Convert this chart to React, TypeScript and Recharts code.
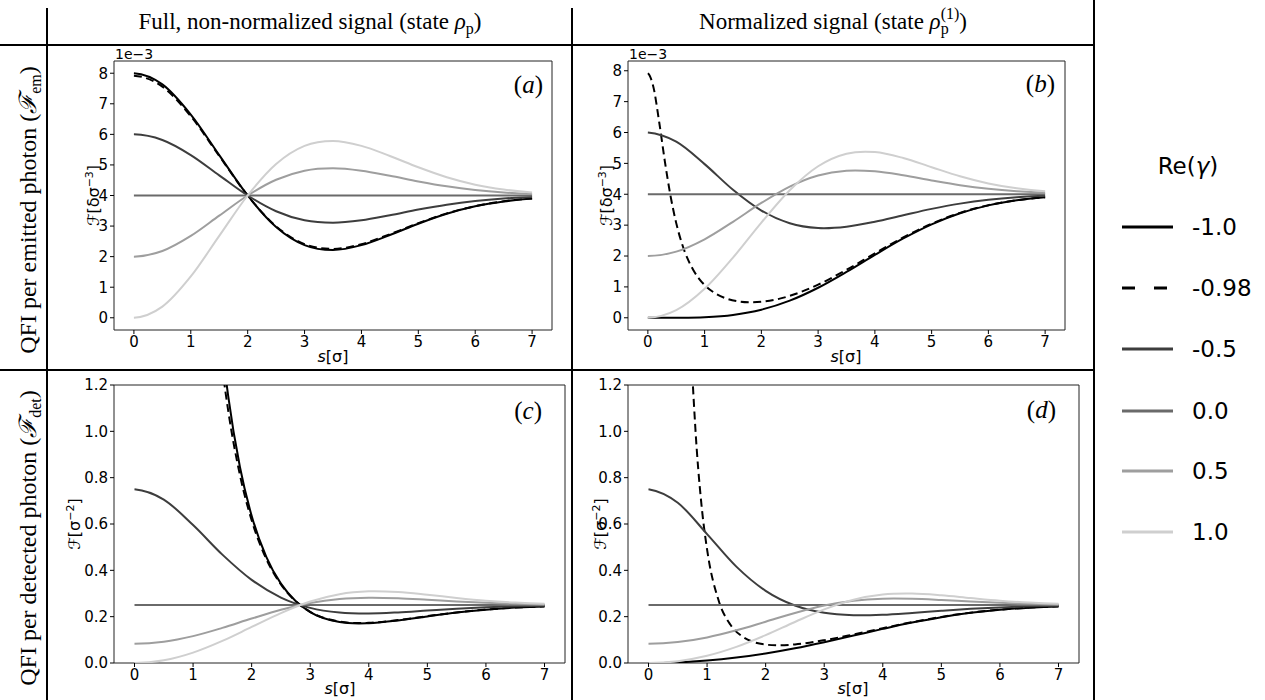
import React from 'react';
import { LineChart, Line, XAxis, YAxis, ReferenceArea } from 'recharts';

// ---------- data ----------
const S = [0, 0.5, 1, 1.5, 2, 2.5, 3, 3.5, 4, 4.5, 5, 5.5, 6, 6.5, 7];

// (a) full signal, per emitted photon (x1e-3)
const A_M10 = [8.0, 7.635, 6.647, 5.321, 4.0, 2.97, 2.377, 2.216, 2.376, 2.707, 3.077, 3.402, 3.645, 3.805, 3.902];
const A_M098 = [7.92, 7.562, 6.594, 5.294, 4.0, 2.99, 2.409, 2.252, 2.408, 2.733, 3.096, 3.414, 3.652, 3.809, 3.904];
const A_M05 = [6.0, 5.817, 5.324, 4.66, 4.0, 3.485, 3.188, 3.108, 3.188, 3.354, 3.539, 3.701, 3.822, 3.903, 3.951];
const A_Z = [4, 4, 4, 4, 4, 4, 4, 4, 4, 4, 4, 4, 4, 4, 4];
const A_P05 = [2.0, 2.183, 2.676, 3.34, 4.0, 4.515, 4.812, 4.892, 4.812, 4.646, 4.461, 4.299, 4.178, 4.097, 4.049];
const A_P10 = [0.0, 0.365, 1.352, 2.679, 4.0, 5.03, 5.623, 5.784, 5.624, 5.293, 4.923, 4.598, 4.355, 4.195, 4.098];

// (b) normalized signal, per emitted photon (x1e-3)
const B_M10 = [0.0, 0.001, 0.02, 0.092, 0.26, 0.554, 0.972, 1.485, 2.037, 2.568, 3.027, 3.386, 3.64, 3.804, 3.901];
const S_B_DASH = [0, 0.1, 0.2, 0.3, 0.4, 0.5, 0.6, 0.7, 0.8, 0.9, 1.0, 1.2, 1.4, 1.6, 1.8, 2.0, 2.25, 2.5, 3, 3.5, 4, 4.5, 5, 5.5, 6, 6.5, 7];
const B_M098 = [7.92, 7.454, 6.333, 5.06, 3.942, 3.065, 2.404, 1.913, 1.546, 1.27, 1.06, 0.778, 0.614, 0.529, 0.5, 0.516, 0.587, 0.708, 1.073, 1.553, 2.084, 2.6, 3.047, 3.398, 3.647, 3.808, 3.903];
const B_M05 = [6.0, 5.703, 4.976, 4.145, 3.472, 3.06, 2.905, 2.947, 3.109, 3.321, 3.527, 3.697, 3.821, 3.903, 3.951];
const B_Z = [4, 4, 4, 4, 4, 4, 4, 4, 4, 4, 4, 4, 4, 4, 4];
const B_P05 = [2.0, 2.143, 2.541, 3.107, 3.718, 4.248, 4.608, 4.763, 4.743, 4.615, 4.449, 4.295, 4.177, 4.097, 4.049];
const B_P10 = [0.0, 0.246, 0.938, 1.948, 3.084, 4.131, 4.907, 5.313, 5.366, 5.174, 4.877, 4.583, 4.351, 4.194, 4.098];

// (c) full signal, per detected photon
const S_C_STEEP = [1.4, 1.5, 1.6, 1.8, 2.0, 2.25, 2.5, 2.75, 3, 3.5, 4, 4.5, 5, 5.5, 6, 6.5, 7];
const C_M10 = [1.61, 1.3565, 1.1516, 0.8458, 0.6354, 0.4579, 0.3424, 0.2674, 0.22, 0.1767, 0.1717, 0.1838, 0.2012, 0.2176, 0.2303, 0.2391, 0.2444];
const C_M098 = [1.493, 1.2715, 1.089, 0.8114, 0.6164, 0.4493, 0.339, 0.2668, 0.2208, 0.1786, 0.1735, 0.1853, 0.2022, 0.2182, 0.2307, 0.2393, 0.2445];
const C_M05 = [0.75, 0.7054, 0.5955, 0.4678, 0.3588, 0.2825, 0.2379, 0.2178, 0.2137, 0.2183, 0.2262, 0.234, 0.2402, 0.2446, 0.2472];
const C_Z = [0.25, 0.25, 0.25, 0.25, 0.25, 0.25, 0.25, 0.25, 0.25, 0.25, 0.25, 0.25, 0.25, 0.25, 0.25];
const C_P05 = [0.0833, 0.0919, 0.116, 0.1516, 0.1918, 0.2296, 0.2588, 0.2759, 0.2817, 0.2793, 0.2728, 0.2657, 0.2597, 0.2554, 0.2528];
const C_P10 = [0.0, 0.0116, 0.0449, 0.0954, 0.1556, 0.2156, 0.2653, 0.2972, 0.3096, 0.3064, 0.2947, 0.281, 0.2692, 0.2609, 0.2556];

// (d) normalized signal, per detected photon
const D_M10 = [0.0, 0.0026, 0.0104, 0.0234, 0.0413, 0.0638, 0.09, 0.1184, 0.1472, 0.1744, 0.1979, 0.2165, 0.2301, 0.239, 0.2444];
const S_D_STEEP = [0.6, 0.7, 0.8, 0.9, 1.0, 1.2, 1.4, 1.6, 1.8, 2.0, 2.25, 2.5, 3, 3.5, 4, 4.5, 5, 5.5, 6, 6.5, 7];
const D_M098 = [2.3806, 1.5285, 1.0136, 0.6941, 0.4904, 0.2678, 0.1648, 0.1147, 0.0903, 0.0795, 0.0765, 0.0803, 0.0984, 0.1232, 0.1502, 0.1762, 0.199, 0.2172, 0.2305, 0.2392, 0.2445];
const D_M05 = [0.75, 0.6916, 0.5566, 0.4161, 0.3115, 0.248, 0.2167, 0.2065, 0.2084, 0.2162, 0.2254, 0.2337, 0.2401, 0.2446, 0.2472];
const D_Z = [0.25, 0.25, 0.25, 0.25, 0.25, 0.25, 0.25, 0.25, 0.25, 0.25, 0.25, 0.25, 0.25, 0.25, 0.25];
const D_P05 = [0.0833, 0.0902, 0.1102, 0.141, 0.1783, 0.216, 0.2478, 0.2686, 0.2777, 0.2774, 0.2721, 0.2654, 0.2596, 0.2554, 0.2528];
const D_P10 = [0.0, 0.0078, 0.0311, 0.0694, 0.12, 0.1771, 0.2315, 0.273, 0.2954, 0.2995, 0.292, 0.2801, 0.2689, 0.2608, 0.2556];

const GAMMA_LABELS = ['-1.0', '-0.98', '-0.5', '0.0', '0.5', '1.0'];
const X_TICKS = [0, 1, 2, 3, 4, 5, 6, 7];
const Y_TICKS_EM = [0, 1, 2, 3, 4, 5, 6, 7, 8];
const Y_TICKS_DET = [0, 0.2, 0.4, 0.6, 0.8, 1.0, 1.2];

// ---------- styles ----------
const COLORS = ['#000000', '#000000', '#3d3d3d', '#6a6a6a', '#9e9e9e', '#cfcfcf'];
const DASHES: (string | undefined)[] = [undefined, '8 4.5', undefined, undefined, undefined, undefined];
const X_DOMAIN: [number, number] = [-0.35, 7.35];
const SANS = 'DejaVu Sans';
const SERIF = 'Liberation Serif';

// smooth cubic Hermite curve through the points (parabolic tangents)
function smoothCurve(context: any) {
  let xs: number[] = [];
  let ys: number[] = [];
  return {
    areaStart() {},
    areaEnd() {},
    lineStart() {
      xs = [];
      ys = [];
    },
    point(x: number, y: number) {
      xs.push(+x);
      ys.push(+y);
    },
    lineEnd() {
      const n = xs.length;
      if (n === 0) return;
      context.moveTo(xs[0], ys[0]);
      if (n === 1) return;
      if (n === 2) {
        context.lineTo(xs[1], ys[1]);
        return;
      }
      const h: number[] = [];
      const dd: number[] = [];
      for (let i = 0; i < n - 1; i++) {
        h[i] = xs[i + 1] - xs[i];
        dd[i] = (ys[i + 1] - ys[i]) / h[i];
      }
      const t: number[] = new Array(n);
      for (let i = 1; i < n - 1; i++) {
        t[i] = (h[i - 1] * dd[i] + h[i] * dd[i - 1]) / (h[i - 1] + h[i]);
      }
      t[0] = dd[0] - ((dd[1] - dd[0]) * h[0]) / (h[0] + h[1]);
      t[n - 1] = dd[n - 2] + ((dd[n - 2] - dd[n - 3]) * h[n - 2]) / (h[n - 2] + h[n - 3]);
      for (let i = 0; i < n - 1; i++) {
        const k = h[i] / 3;
        context.bezierCurveTo(xs[i] + k, ys[i] + t[i] * k, xs[i + 1] - k, ys[i + 1] - t[i + 1] * k, xs[i + 1], ys[i + 1]);
      }
    },
  };
}

const rows = (xs: number[], ys: number[]) => xs.map((s, i) => ({ s, v: ys[i] }));

type PanelProps = {
  left: number;
  top: number;
  yWidth: number;
  marginTop: number;
  marginRight: number;
  xHeight: number;
  yDomain: [number, number];
  yTicks: number[];
  yFmt: (v: number) => string;
  series: { s: number; v: number }[][];
};

const tickStyle = { fontSize: 15, fill: '#000', fontFamily: SANS };

function Panel(p: PanelProps) {
  return (
    <div style={{ position: 'absolute', left: p.left, top: p.top }}>
      <LineChart width={522} height={326} margin={{ top: p.marginTop, right: p.marginRight, bottom: 0, left: 0 }}>
        <XAxis
          dataKey="s"
          type="number"
          domain={X_DOMAIN}
          ticks={X_TICKS}
          interval={0}
          allowDataOverflow
          height={p.xHeight}
          axisLine={false}
          tickLine={{ stroke: '#000' }}
          tickSize={4}
          tickMargin={2}
          tick={tickStyle}
        />
        <YAxis
          type="number"
          domain={p.yDomain}
          ticks={p.yTicks}
          interval={0}
          allowDataOverflow
          width={p.yWidth}
          axisLine={false}
          tickLine={{ stroke: '#000' }}
          tickSize={4}
          tickMargin={2}
          tick={tickStyle}
          tickFormatter={p.yFmt}
        />
        {p.series.map((d, i) => (
          <Line
            key={i}
            data={d}
            dataKey="v"
            type={smoothCurve as any}
            stroke={COLORS[i]}
            strokeWidth={2}
            strokeDasharray={DASHES[i]}
            dot={false}
            activeDot={false}
            isAnimationActive={false}
          />
        ))}
        <ReferenceArea
          x1={X_DOMAIN[0]}
          x2={X_DOMAIN[1]}
          y1={p.yDomain[0]}
          y2={p.yDomain[1]}
          fill="none"
          fillOpacity={0}
          stroke="#222"
          strokeWidth={1}
          ifOverflow="visible"
        />
      </LineChart>
    </div>
  );
}

const fmtInt = (v: number) => String(v);
const fmt1 = (v: number) => v.toFixed(1);

const LEGEND_Y = [227, 288, 349, 411, 471, 532];

export default function App() {
  const a = [rows(S, A_M10), rows(S, A_M098), rows(S, A_M05), rows(S, A_Z), rows(S, A_P05), rows(S, A_P10)];
  const b = [rows(S, B_M10), rows(S_B_DASH, B_M098), rows(S, B_M05), rows(S, B_Z), rows(S, B_P05), rows(S, B_P10)];
  const c = [rows(S_C_STEEP, C_M10), rows(S_C_STEEP, C_M098), rows(S, C_M05), rows(S, C_Z), rows(S, C_P05), rows(S, C_P10)];
  const d = [rows(S, D_M10), rows(S_D_STEEP, D_M098), rows(S, D_M05), rows(S, D_Z), rows(S, D_P05), rows(S, D_P10)];

  const yLabelEm = (x: number, y: number) => (
    <text transform={`translate(${x},${y}) rotate(-90)`} textAnchor="middle" fontFamily={SANS} fontSize={16}>
      ℱ[δσ<tspan dy={-6} fontSize={11}>−3</tspan><tspan dy={6}>]</tspan>
    </text>
  );
  const yLabelDet = (x: number, y: number) => (
    <text transform={`translate(${x},${y}) rotate(-90)`} textAnchor="middle" fontFamily={SANS} fontSize={16}>
      ℱ[σ<tspan dy={-6} fontSize={11}>−2</tspan><tspan dy={6}>]</tspan>
    </text>
  );
  const xLabel = (x: number, y: number) => (
    <text x={x} y={y} textAnchor="middle" fontFamily={SANS} fontSize={16}>
      <tspan fontStyle="italic">s</tspan>[σ]
    </text>
  );
  const letter = (x: number, y: number, l: string) => (
    <text x={x} y={y} textAnchor="end" fontFamily={SERIF} fontSize={25}>
      (<tspan fontStyle="italic">{l}</tspan>)
    </text>
  );

  return (
    <div style={{ position: 'absolute', left: 0, top: 0, width: 1265, height: 700, background: '#fff' }}>
      <Panel left={48} top={42} yWidth={66} marginTop={19} marginRight={18} xHeight={38}
        yDomain={[-0.4, 8.4]} yTicks={Y_TICKS_EM} yFmt={fmtInt} series={a} />
      <Panel left={574} top={42} yWidth={54} marginTop={19} marginRight={31} xHeight={38}
        yDomain={[-0.396, 8.316]} yTicks={Y_TICKS_EM} yFmt={fmtInt} series={b} />
      <Panel left={48} top={372} yWidth={66} marginTop={13} marginRight={5} xHeight={35}
        yDomain={[0, 1.2]} yTicks={Y_TICKS_DET} yFmt={fmt1} series={c} />
      <Panel left={574} top={372} yWidth={54} marginTop={13} marginRight={17} xHeight={35}
        yDomain={[0, 1.2]} yTicks={Y_TICKS_DET} yFmt={fmt1} series={d} />

      <svg width={1265} height={700} style={{ position: 'absolute', left: 0, top: 0, pointerEvents: 'none' }}>
        {/* table lines */}
        <g stroke="#000" strokeWidth={2}>
          <line x1={0} y1={45} x2={1094} y2={45} />
          <line x1={0} y1={370} x2={1094} y2={370} />
          <line x1={47} y1={8} x2={47} y2={700} />
          <line x1={572} y1={8} x2={572} y2={700} />
          <line x1={1094} y1={0} x2={1094} y2={700} />
        </g>

        {/* column headers */}
        <text x={310} y={29} textAnchor="middle" fontFamily={SERIF} fontSize={23}>
          Full, non-normalized signal (state <tspan fontStyle="italic">ρ</tspan>
          <tspan dy={5} fontSize={16}>p</tspan>
          <tspan dy={-5}>)</tspan>
        </text>
        <text x={833} y={29} textAnchor="middle" fontFamily={SERIF} fontSize={23}>
          Normalized signal (state <tspan fontStyle="italic">ρ</tspan>
          <tspan dy={5} fontSize={16}>p</tspan>
          <tspan dx={-8} dy={-15} fontSize={16}>(1)</tspan>
          <tspan dy={10}>)</tspan>
        </text>

        {/* row labels */}
        <text transform="translate(36,210) rotate(-90)" textAnchor="middle" fontFamily={SERIF} fontSize={24}>
          QFI per emitted photon (<tspan fontStyle="italic">ℱ</tspan>
          <tspan dy={5} fontSize={16}>em</tspan>
          <tspan dy={-5}>)</tspan>
        </text>
        <text transform="translate(36,538) rotate(-90)" textAnchor="middle" fontFamily={SERIF} fontSize={24}>
          QFI per detected photon (<tspan fontStyle="italic">ℱ</tspan>
          <tspan dy={5} fontSize={16}>det</tspan>
          <tspan dy={-5}>)</tspan>
        </text>

        {/* offset text */}
        <text x={115} y={59} fontFamily={SANS} fontSize={14}>1e−3</text>
        <text x={629} y={59} fontFamily={SANS} fontSize={14}>1e−3</text>

        {/* axis labels */}
        {yLabelEm(99, 195.5)}
        {yLabelEm(612, 195.5)}
        {yLabelDet(80, 524)}
        {yLabelDet(606, 524)}
        {xLabel(333, 362)}
        {xLabel(846, 362)}
        {xLabel(340, 694)}
        {xLabel(853, 694)}

        {/* panel letters */}
        {letter(543, 93, 'a')}
        {letter(1055, 92, 'b')}
        {letter(542, 419, 'c')}
        {letter(1056, 418, 'd')}

        {/* legend */}
        <text x={1188} y={174} textAnchor="middle" fontFamily={SANS} fontSize={23}>
          Re(<tspan fontStyle="italic">γ</tspan>)
        </text>
        {GAMMA_LABELS.map((lab, i) => (
          <g key={lab}>
            <line x1={1122} y1={LEGEND_Y[i]} x2={1173} y2={LEGEND_Y[i]} stroke={COLORS[i]} strokeWidth={3}
              strokeDasharray={i === 1 ? '13 19' : undefined} />
            <text x={1192} y={LEGEND_Y[i] + 8} fontFamily={SANS} fontSize={23}>{lab}</text>
          </g>
        ))}
      </svg>
    </div>
  );
}
